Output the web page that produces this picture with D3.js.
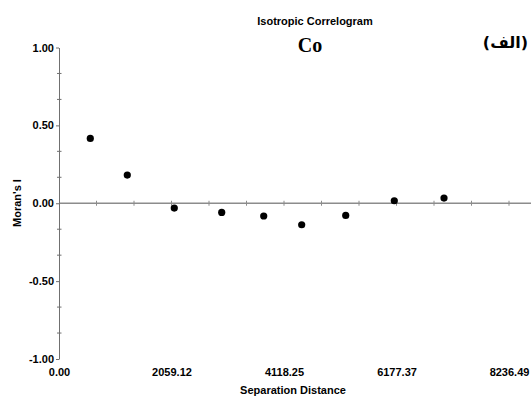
<!DOCTYPE html>
<html>
<head>
<meta charset="utf-8">
<script src="https://cdn.jsdelivr.net/npm/d3@7"></script>
<style>
  body { margin: 0; background: #fff; }
  svg { display: block; }
  text { font-family: Arial, "Liberation Sans", sans-serif; }
</style>
</head>
<body>
<div id="view"></div>
<script>
const distances = [573, 1250, 2110, 2978, 3747, 4442, 5248, 6137, 7047];
const moransI = [0.416, 0.181, -0.031, -0.059, -0.082, -0.138, -0.078, 0.016, 0.033];
const xTicks = [0, 2059.12, 4118.25, 6177.37, 8236.49];
const yTicks = [-1, -0.5, 0, 0.5, 1];
const xStep = 8236.49 / 12;
const yMinorStep = 0.5 / 3;

const width = 531, height = 396;

const svg = d3.select("#view")
  .append("svg")
  .attr("width", width)
  .attr("height", height);

const mapX = d3.scaleLinear().domain([0, 8236.49]).range([59, 509]);
const mapY = d3.scaleLinear().domain([-1, 1]).range([359, 47.5]);

// titles
svg.append("text")
  .attr("x", 315).attr("y", 25)
  .attr("text-anchor", "middle")
  .attr("font-size", 11).attr("font-weight", "bold")
  .text("Isotropic Correlogram");

svg.append("text")
  .attr("x", 310).attr("y", 52)
  .attr("text-anchor", "middle")
  .style("font-family", "'Liberation Serif', 'Times New Roman', serif")
  .attr("font-size", 20).attr("font-weight", "bold")
  .text("Co");

svg.append("text")
  .attr("x", 528).attr("y", 48)
  .attr("text-anchor", "start")
  .attr("direction", "rtl")
  .style("direction", "rtl")
  .style("unicode-bidi", "bidi-override")
  .style("font-family", "'DejaVu Sans', sans-serif")
  .attr("font-size", 16).attr("font-weight", "bold")
  .text("(الف)");

// zero line with ticks
const minorX = d3.range(1, 13).map(i => i * xStep);
svg.append("line")
  .attr("x1", mapX(0)).attr("x2", width)
  .attr("y1", mapY(0)).attr("y2", mapY(0))
  .attr("stroke", "#8c8c8c").attr("stroke-width", 1.6);

svg.selectAll(".xtick")
  .data(minorX)
  .enter().append("line")
  .attr("class", "xtick")
  .attr("x1", d => mapX(d)).attr("x2", d => mapX(d))
  .attr("y1", mapY(0) - 2.5).attr("y2", mapY(0) + 2.5)
  .attr("stroke", "#8c8c8c").attr("stroke-width", 1);

// y axis
const yAxis = d3.axisLeft(mapY)
  .tickValues(yTicks)
  .tickSizeInner(3)
  .tickSizeOuter(0)
  .tickPadding(2)
  .tickFormat(d => d.toFixed(2));

const groupY = svg.append("g")
  .attr("transform", "translate(59, 0)")
  .call(yAxis);
groupY.select(".domain").attr("stroke", "#707070");
groupY.selectAll(".tick line").attr("stroke", "#707070");
groupY.selectAll("text")
  .attr("font-size", 11).attr("font-weight", "bold")
  .attr("fill", "#000")
  .style("font-family", "Arial, 'Liberation Sans', sans-serif");

const minorY = d3.range(-6, 7).map(i => i * yMinorStep).filter((d, i) => i % 3 !== 0);
svg.selectAll(".ytick")
  .data(minorY)
  .enter().append("line")
  .attr("class", "ytick")
  .attr("x1", 57).attr("x2", 61.5)
  .attr("y1", d => mapY(d)).attr("y2", d => mapY(d))
  .attr("stroke", "#707070").attr("stroke-width", 1);

// x labels along the bottom
const xAxis = d3.axisBottom(mapX)
  .tickValues(xTicks)
  .tickSize(0)
  .tickPadding(4)
  .tickFormat(d => d.toFixed(2));

const groupX = svg.append("g")
  .attr("transform", "translate(0, 364)")
  .call(xAxis);
groupX.select(".domain").remove();
groupX.selectAll("text")
  .attr("font-size", 11).attr("font-weight", "bold")
  .attr("fill", "#000")
  .style("font-family", "Arial, 'Liberation Sans', sans-serif");

// axis titles
svg.append("text")
  .attr("x", 293).attr("y", 394)
  .attr("text-anchor", "middle")
  .attr("font-size", 11).attr("font-weight", "bold")
  .text("Separation Distance");

svg.append("text")
  .attr("transform", "translate(21, 203) rotate(-90)")
  .attr("text-anchor", "middle")
  .attr("font-size", 11).attr("font-weight", "bold")
  .text("Moran's I");

// points
svg.selectAll("circle")
  .data(distances.map((d, i) => ({ d: d, v: moransI[i] })))
  .enter().append("circle")
  .attr("cx", p => mapX(p.d))
  .attr("cy", p => mapY(p.v))
  .attr("r", 3.6)
  .attr("fill", "#000");
</script>
</body>
</html>
